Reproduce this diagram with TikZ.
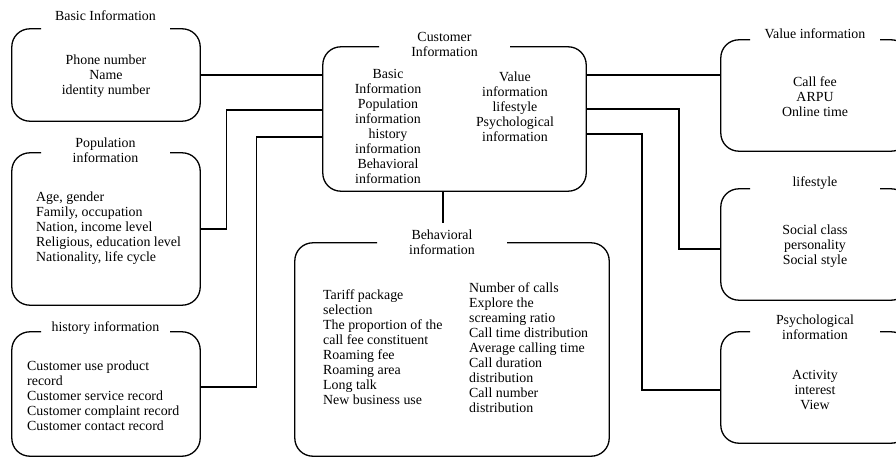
\documentclass[tikz,border=0pt]{standalone}
\usepackage{fontspec}
\setmainfont{Liberation Serif}
\usetikzlibrary{calc}
\tikzset{
  boxshape/.style={draw=none,inner sep=0pt,minimum width=#1},
  outline/.style={draw=black,line width=1.3pt,rounded corners=18pt},
  conn/.style={draw=black,line width=1.3pt},
  titletext/.style={align=center,inner sep=0pt,font=\fontsize{13.9}{15}\selectfont},
  bodytext/.style={inner sep=0pt,font=\fontsize{13.9}{15}\selectfont}
}
\newcommand\gbox[3]{\draw[outline] ($(#1.north)+(#3,0)$) -| (#1.south east) -| (#1.north west) -- ($(#1.north)+(#2,0)$);}
\begin{document}
\begin{tikzpicture}[x=1pt,y=-1pt]
\useasboundingbox (0,0) rectangle (896,457);
\clip (0,0) rectangle (896,457);
% boxes
\node[boxshape=188pt,minimum height=92pt] (basic) at (106,75) {};
\node[boxshape=188pt,minimum height=152pt] (pop) at (106,229) {};
\node[boxshape=188pt,minimum height=124pt] (hist) at (106,394) {};
\node[boxshape=263pt,minimum height=144pt] (cust) at (454.5,119) {};
\node[boxshape=314pt,minimum height=213pt] (beh) at (452,349.5) {};
\node[boxshape=188pt,minimum height=111pt] (val) at (815,95.5) {};
\node[boxshape=188pt,minimum height=111pt] (life) at (815,244.5) {};
\node[boxshape=188pt,minimum height=111pt] (psy) at (815,387.5) {};
\gbox{basic}{-65}{64}
\gbox{pop}{-65}{64}
\gbox{hist}{-65}{64}
\gbox{cust}{-75.5}{55.5}
\gbox{beh}{-75}{55}
\gbox{val}{-65}{65}
\gbox{life}{-65}{65}
\gbox{psy}{-65}{65}
% titles
\node[titletext] (basicT) at (105.5,16) {Basic Information};
\node[titletext] (popT) at (105.5,150) {Population\\information};
\node[titletext] (histT) at (105.5,328) {history information};
\node[titletext] (custT) at (444.5,44) {Customer\\Information};
\node[titletext] (behT) at (442,242) {Behavioral\\information};
\node[titletext] (valT) at (815,34) {Value information};
\node[titletext] (lifeT) at (815,183) {lifestyle};
\node[titletext] (psyT) at (815,327) {Psychological\\information};
% contents
\node[bodytext,align=center] (basicC) at (106,76) {Phone number\\Name\\identity number};
\node[bodytext,align=left,anchor=west] (popC) at (36,228) {Age, gender\\Family, occupation\\Nation, income level\\Religious, education level\\Nationality, life cycle};
\node[bodytext,align=left,anchor=west] (histC) at (27,396) {Customer use product\\record\\Customer service record\\Customer complaint record\\Customer contact record};
\node[bodytext,align=center] (custL) at (388,126) {Basic\\Information\\Population\\information\\history\\information\\Behavioral\\information};
\node[bodytext,align=center] (custR) at (515,107) {Value\\information\\lifestyle\\Psychological\\information};
\node[bodytext,align=left,anchor=west] (behL) at (323,347.5) {Tariff package\\selection\\The proportion of the\\call fee constituent\\Roaming fee\\Roaming area\\Long talk\\New business use};
\node[bodytext,align=left,anchor=west] (behR) at (469,348) {Number of calls\\Explore the\\screaming ratio\\Call time distribution\\Average calling time\\Call duration\\distribution\\Call number\\distribution};
\node[bodytext,align=center] (valC) at (815,97) {Call fee\\ARPU\\Online time};
\node[bodytext,align=center] (lifeC) at (815,246) {Social class\\personality\\Social style};
\node[bodytext,align=center] (psyC) at (815,390) {Activity\\interest\\View};
% connectors
\coordinate (behEnd) at (443,223);
\draw[conn] (basic.east) -- (basic.east -| cust.west);
\draw[conn] (pop.east) -- ++(26,0) |- (cust.west |- 0,110);
\draw[conn] (hist.east |- 0,387) -- ++(56,0) |- (cust.west |- 0,137);
\draw[conn] (cust.east |- 0,75) -- (val.west |- 0,75);
\draw[conn] (cust.east |- 0,109) -| (679,249) -- (life.west |- 0,249);
\draw[conn] (cust.east |- 0,134) -| (642,390) -- (psy.west |- 0,390);
\draw[conn] (cust.south -| behEnd) -- (behEnd);
\end{tikzpicture}
\end{document}
